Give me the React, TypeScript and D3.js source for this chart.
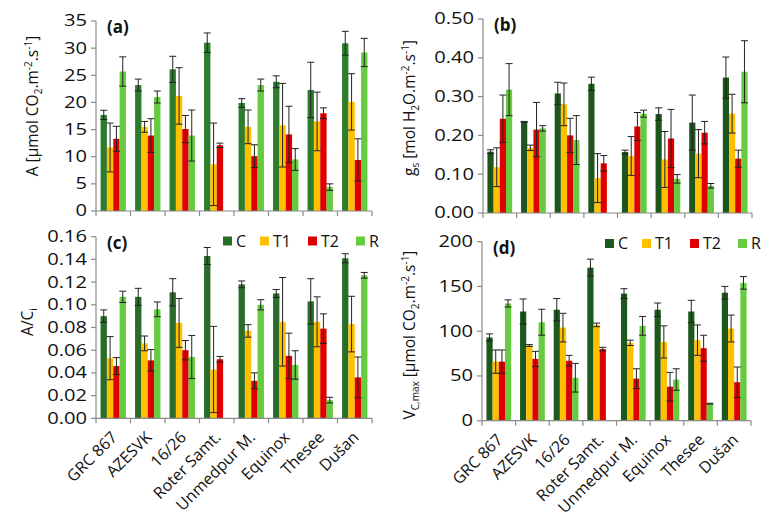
import React from "react";
import * as d3 from "d3";

const categories = ["GRC 867", "AZESVK", "16/26", "Roter Samt.", "Unmedpur M.", "Equinox", "Thesee", "Dušan"];
const seriesNames = ["C", "T1", "T2", "R"];

// Panel (a): A [µmol CO2 m-2 s-1]
const aC = [17.7, 23.2, 26.1, 31.0, 19.9, 23.8, 22.3, 30.9];
const aT1 = [11.7, 15.5, 21.2, 8.6, 15.5, 15.8, 16.5, 20.1];
const aT2 = [13.3, 13.9, 15.1, 12.1, 10.1, 14.1, 18.0, 9.4];
const aR = [25.7, 21.0, 13.9, null, 23.2, 9.5, 4.4, 29.2];
const aCErr = [0.85, 1.1, 2.4, 1.8, 0.8, 1.1, 5.1, 2.2];
const aT1Err = [4.5, 1.0, 5.2, 7.6, 3.1, 7.7, 5.4, 5.2];
const aT2Err = [2.3, 3.1, 2.5, 0.4, 2.1, 5.2, 1.0, 3.9];
const aRErr = [2.7, 1.1, 4.7, null, 1.1, 2.0, 0.6, 2.6];

// Panel (b): gs
const bC = [0.158, 0.235, 0.308, 0.333, 0.157, 0.255, 0.233, 0.349];
const bT1 = [0.118, 0.168, 0.280, 0.090, 0.147, 0.138, 0.153, 0.256];
const bT2 = [0.243, 0.215, 0.200, 0.128, 0.223, 0.192, 0.207, 0.140];
const bR = [0.318, 0.218, 0.188, null, 0.256, 0.088, 0.070, 0.364];
const bCErr = [0.005, 0.001, 0.029, 0.017, 0.005, 0.016, 0.071, 0.053];
const bT1Err = [0.05, 0.007, 0.055, 0.063, 0.05, 0.072, 0.062, 0.05];
const bT2Err = [0.061, 0.07, 0.044, 0.02, 0.036, 0.075, 0.029, 0.022];
const bRErr = [0.067, 0.007, 0.063, null, 0.009, 0.011, 0.006, 0.08];

// Panel (c): A/Ci
const cC = [0.090, 0.107, 0.111, 0.143, 0.118, 0.110, 0.103, 0.141];
const cT1 = [0.053, 0.066, 0.084, 0.043, 0.077, 0.085, 0.085, 0.083];
const cT2 = [0.046, 0.051, 0.060, 0.052, 0.033, 0.055, 0.079, 0.036];
const cR = [0.107, 0.096, 0.054, null, 0.100, 0.047, 0.016, 0.126];
const cCErr = [0.0055, 0.0075, 0.012, 0.0075, 0.003, 0.0035, 0.02, 0.004];
const cT1Err = [0.019, 0.0065, 0.0215, 0.038, 0.0055, 0.039, 0.022, 0.0245];
const cT2Err = [0.0075, 0.0095, 0.0085, 0.0025, 0.007, 0.02, 0.013, 0.018];
const cRErr = [0.005, 0.0065, 0.019, null, 0.0045, 0.0125, 0.0025, 0.0025];

// Panel (d): Vc,max
const dC = [93, 122, 124, 171, 142, 124, 122, 143];
const dT1 = [66, 84, 104, 107, 87, 88, 90, 103];
const dT2 = [66, 69, 67, 80, 47, 38, 81, 43];
const dR = [131, 110, 48, null, 106, 46, 19, 154];
const dCErr = [4, 14, 12.5, 9.5, 5.5, 7.5, 12.5, 7];
const dT1Err = [13, 1, 16, 2, 3, 18, 17, 15];
const dT2Err = [13, 8.5, 6, 2, 11, 16, 14.5, 17];
const dRErr = [4, 14.5, 16, null, 10.5, 12, 0.5, 7];

const aTicks = [0, 5, 10, 15, 20, 25, 30, 35];
const bTicks = [0, 0.1, 0.2, 0.3, 0.4, 0.5];
const cTicks = [0, 0.02, 0.04, 0.06, 0.08, 0.1, 0.12, 0.14, 0.16];
const dTicks = [0, 50, 100, 150, 200];

const T1_COLOR = "#FFC000";
const T2_COLOR = "#DE0000";
const R_COLOR = "#66CC3F";
const FONT = "'Open Sans', sans-serif";
const AXIS = "#8a8a8a";

type PanelProps = {
  left: number; right: number; top: number; bottom: number;
  ticks: number[]; fmt: (v: number) => string;
  values: (number | null)[][]; errors: (number | null)[][];
  cColor: string; label: string; legend: boolean; legendX?: number; legendY?: number;
  xLabels: boolean; title: React.ReactNode; titleX: number; titleY: number;
};

function Panel(p: PanelProps) {
  const max = p.ticks[p.ticks.length - 1];
  const y = d3.scaleLinear().domain([0, max]).range([p.bottom, p.top]);
  const x0 = d3.scaleBand<string>().domain(categories).range([p.left, p.right]).paddingInner(0).paddingOuter(0);
  const x1 = d3.scaleBand<string>().domain(seriesNames).range([0, x0.bandwidth()]).paddingInner(0).paddingOuter(0.72);
  const colors = [p.cColor, T1_COLOR, T2_COLOR, R_COLOR];
  const bw = x1.bandwidth();
  const boundaries = d3.range(categories.length + 1).map((i) => p.left + i * x0.step());
  return (
    <g>
      {p.values.map((ser, si) =>
        ser.map((v, ci) => {
          if (v == null) return null;
          const bx = (x0(categories[ci]) as number) + (x1(seriesNames[si]) as number);
          return <rect key={`b${si}-${ci}`} x={bx} y={y(v)} width={bw} height={p.bottom - y(v)} fill={colors[si]} />;
        })
      )}
      {p.values.map((ser, si) =>
        ser.map((v, ci) => {
          const e = p.errors[si][ci];
          if (v == null || e == null) return null;
          const cx = (x0(categories[ci]) as number) + (x1(seriesNames[si]) as number) + bw / 2;
          const yt = y(v + e), yb = y(Math.max(0, v - e));
          return (
            <g key={`e${si}-${ci}`} stroke="#222" strokeWidth={1}>
              <line x1={cx} x2={cx} y1={yt} y2={yb} />
              <line x1={cx - 3.5} x2={cx + 3.5} y1={yt} y2={yt} />
              <line x1={cx - 3.5} x2={cx + 3.5} y1={yb} y2={yb} />
            </g>
          );
        })
      )}
      {/* y axis */}
      <line x1={p.left} x2={p.left} y1={p.top} y2={p.bottom} stroke={AXIS} strokeWidth={1.2} />
      {p.ticks.map((t) => (
        <g key={`yt${t}`}>
          <line x1={p.left - 5} x2={p.left} y1={y(t)} y2={y(t)} stroke={AXIS} strokeWidth={1.2} />
          <text transform={`translate(${p.left - 9},${y(t)}) scale(1.3,1)`} dy="0.35em" textAnchor="end"
            fontSize={15.5} fontFamily={FONT} fill="#111">
            {p.fmt(t)}
          </text>
        </g>
      ))}
      {/* x axis */}
      <line x1={p.left} x2={p.right} y1={p.bottom} y2={p.bottom} stroke={AXIS} strokeWidth={1.2} />
      {boundaries.map((bx, i) => (
        <line key={`xt${i}`} x1={bx} x2={bx} y1={p.bottom} y2={p.bottom + 5} stroke={AXIS} strokeWidth={1.2} />
      ))}
      {p.xLabels &&
        categories.map((c) => {
          const cx = (x0(c) as number) + x0.bandwidth() / 2;
          return (
            <text key={`xl${c}`} transform={`translate(${cx + 5},${p.bottom + 20}) rotate(-45)`} textAnchor="end"
              fontSize={16} fontFamily={FONT} fill="#111">
              {c}
            </text>
          );
        })}
      <text x={p.left + 11} y={p.top + 6} dy="0.35em" fontSize={17} fontWeight="bold" fontFamily={FONT} fill="#111">
        {p.label}
      </text>
      <text transform={`translate(${p.titleX},${p.titleY}) rotate(-90)`} textAnchor="middle" fontSize={15.5}
        fontFamily={FONT} fill="#111">
        {p.title}
      </text>
      {p.legend && (
        <g fontFamily={FONT} fontSize={16} fill="#111">
          {seriesNames.map((s, i) => {
            const offs = [0, 37, 85, 133];
            const lx = (p.legendX as number) + offs[i];
            const ly = p.legendY as number;
            return (
              <g key={`lg${s}`}>
                <rect x={lx} y={ly - 4.5} width={9} height={9} fill={i === 0 ? p.cColor : colors[i]} />
                <text x={lx + 13} y={ly} dy="0.35em">{s}</text>
              </g>
            );
          })}
        </g>
      )}
    </g>
  );
}

export default function App() {
  const f0 = (v: number) => d3.format("d")(v);
  const f2 = (v: number) => d3.format(".2f")(v);
  const titleA = (
    <>
      <tspan>A [µmol CO</tspan><tspan fontSize={10} dy={4}>2</tspan><tspan dy={-4}>.m</tspan>
      <tspan fontSize={10} dy={-6}>-2</tspan><tspan dy={6}>.s</tspan><tspan fontSize={10} dy={-6}>-1</tspan>
      <tspan dy={6}>]</tspan>
    </>
  );
  const titleB = (
    <>
      <tspan>g</tspan><tspan fontSize={10} dy={4}>s</tspan><tspan dy={-4}> [mol H</tspan>
      <tspan fontSize={10} dy={4}>2</tspan><tspan dy={-4}>O.m</tspan>
      <tspan fontSize={10} dy={-6}>-2</tspan><tspan dy={6}>.s</tspan><tspan fontSize={10} dy={-6}>-1</tspan>
      <tspan dy={6}>]</tspan>
    </>
  );
  const titleC = (
    <>
      <tspan>A/C</tspan><tspan fontSize={10} dy={4}>i</tspan>
    </>
  );
  const titleD = (
    <>
      <tspan>V</tspan><tspan fontSize={10} dy={4}>C,max</tspan><tspan dy={-4}> [µmol CO</tspan>
      <tspan fontSize={10} dy={4}>2</tspan><tspan dy={-4}>.m</tspan>
      <tspan fontSize={10} dy={-6}>-2</tspan><tspan dy={6}>.s</tspan><tspan fontSize={10} dy={-6}>-1</tspan>
      <tspan dy={6}>]</tspan>
    </>
  );
  return (
    <svg width={768} height={526} style={{ position: "absolute", left: 0, top: 0, background: "#fff" }}>
      <Panel left={96} right={372} top={21} bottom={211} ticks={aTicks} fmt={f0}
        values={[aC, aT1, aT2, aR]} errors={[aCErr, aT1Err, aT2Err, aRErr]} cColor="#2E7D2E" label="(a)"
        legend={false} xLabels={false} title={titleA} titleX={38} titleY={106} />
      <Panel left={483} right={752} top={19} bottom={213} ticks={bTicks} fmt={f2}
        values={[bC, bT1, bT2, bR]} errors={[bCErr, bT1Err, bT2Err, bRErr]} cColor="#1C561C" label="(b)"
        legend={false} xLabels={false} title={titleB} titleX={415} titleY={108} />
      <Panel left={96} right={372} top={236.7} bottom={418.3} ticks={cTicks} fmt={f2}
        values={[cC, cT1, cT2, cR]} errors={[cCErr, cT1Err, cT2Err, cRErr]} cColor="#2A6C2A" label="(c)"
        legend={true} legendX={223} legendY={241} xLabels={true} title={titleC} titleX={33} titleY={322} />
      <Panel left={482} right={751} top={241.7} bottom={420.7} ticks={dTicks} fmt={f0}
        values={[dC, dT1, dT2, dR]} errors={[dCErr, dT1Err, dT2Err, dRErr]} cColor="#1D581D" label="(d)"
        legend={true} legendX={605} legendY={243.5} xLabels={true} title={titleD} titleX={415} titleY={335} />
    </svg>
  );
}
